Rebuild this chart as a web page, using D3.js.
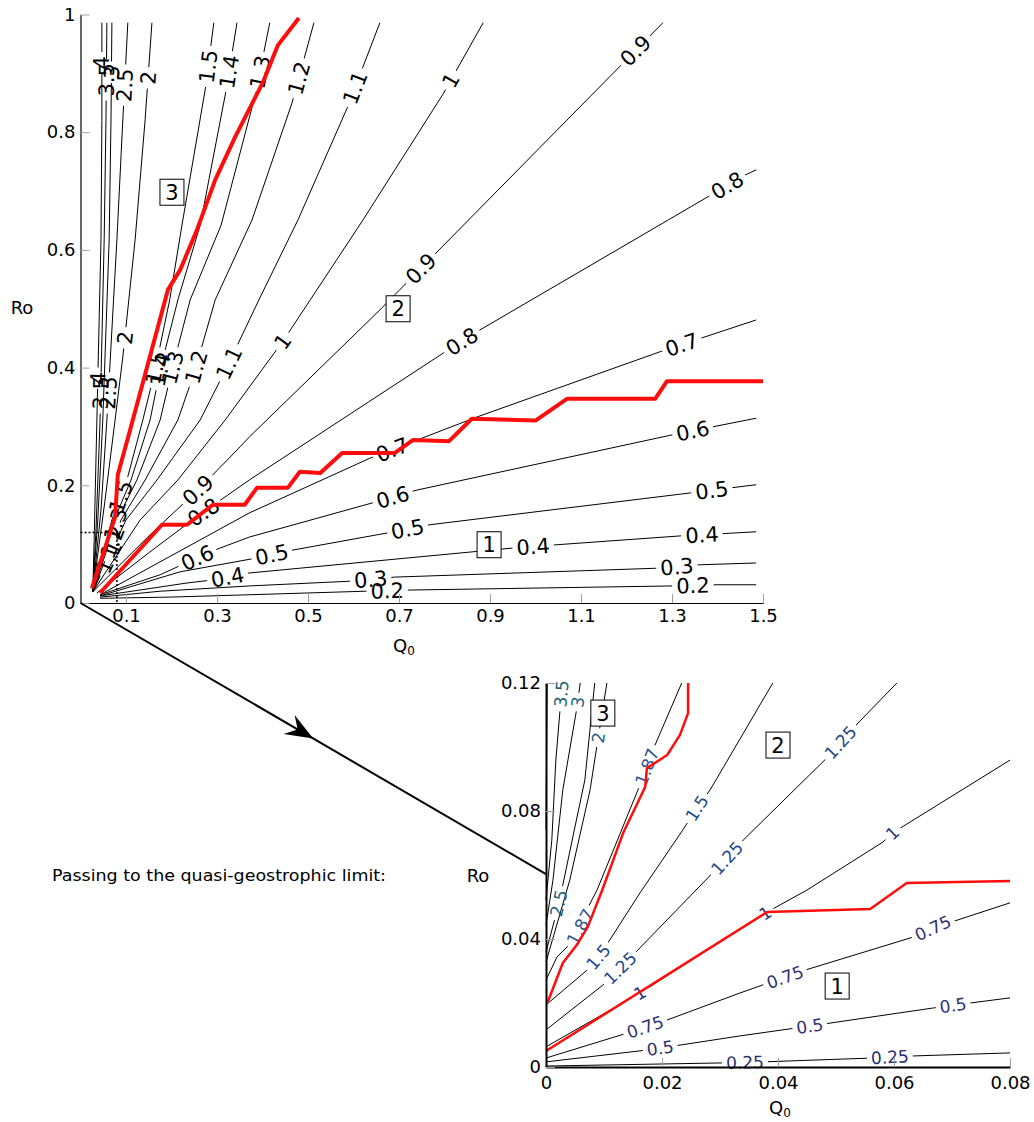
<!DOCTYPE html>
<html>
<head>
<meta charset="utf-8">
<script src="https://cdn.jsdelivr.net/npm/d3@7"></script>
<style>
  body { margin: 0; background: #fff; }
  text { font-family: "DejaVu Sans", sans-serif; }
</style>
</head>
<body>
<div id="chart"></div>
<script>
// ---- upper panel (full range) ----
const topXTicks = [0.1, 0.3, 0.5, 0.7, 0.9, 1.1, 1.3, 1.5];
const topYTicks = [0, 0.2, 0.4, 0.6, 0.8, 1];

const topLevels = ["4", "3.5", "3", "2.5", "2", "1.5", "1.4", "1.3", "1.2", "1.1", "1", "0.9", "0.8", "0.7", "0.6", "0.5", "0.4", "0.3", "0.2"];

const topLines = [
  [[0.027,0.019],[0.030,0.107],[0.036,0.311],[0.045,0.617],[0.047,0.820],[0.047,0.986]],
  [[0.027,0.019],[0.034,0.124],[0.043,0.311],[0.052,0.617],[0.056,0.821],[0.058,0.986]],
  [[0.027,0.019],[0.038,0.141],[0.049,0.311],[0.063,0.617],[0.067,0.821],[0.069,0.986]],
  [[0.027,0.019],[0.045,0.158],[0.058,0.311],[0.080,0.617],[0.093,0.821],[0.104,0.986]],
  [[0.027,0.019],[0.054,0.175],[0.076,0.311],[0.093,0.418],[0.120,0.617],[0.142,0.821],[0.157,0.986]],
  [[0.027,0.019],[0.069,0.141],[0.102,0.209],[0.137,0.311],[0.164,0.396],[0.196,0.515],[0.223,0.642],[0.274,0.872],[0.293,0.986]],
  [[0.027,0.019],[0.074,0.141],[0.111,0.209],[0.153,0.311],[0.175,0.396],[0.214,0.515],[0.263,0.642],[0.318,0.863],[0.344,0.986]],
  [[0.027,0.019],[0.080,0.141],[0.124,0.209],[0.175,0.311],[0.201,0.396],[0.241,0.515],[0.309,0.642],[0.384,0.863],[0.416,0.986]],
  [[0.027,0.019],[0.089,0.141],[0.142,0.209],[0.214,0.311],[0.252,0.396],[0.296,0.515],[0.377,0.651],[0.465,0.850],[0.513,0.986]],
  [[0.027,0.019],[0.100,0.141],[0.168,0.209],[0.263,0.311],[0.322,0.401],[0.392,0.515],[0.478,0.651],[0.586,0.841],[0.658,0.986]],
  [[0.027,0.019],[0.131,0.141],[0.214,0.209],[0.318,0.311],[0.445,0.445],[0.621,0.651],[0.797,0.865],[0.885,0.986]],
  [[0.027,0.019],[0.153,0.116],[0.258,0.192],[0.329,0.248],[0.371,0.282],[0.658,0.498],[1.280,0.986]],
  [[0.036,0.017],[0.153,0.087],[0.258,0.148],[0.371,0.209],[0.790,0.421],[0.878,0.464],[1.292,0.651],[1.460,0.727],[1.485,0.736]],
  [[0.043,0.014],[0.371,0.153],[0.636,0.246],[0.871,0.316],[1.274,0.427],[1.485,0.481]],
  [[0.043,0.014],[0.175,0.048],[0.285,0.087],[0.371,0.112],[0.641,0.170],[0.740,0.192],[1.296,0.285],[1.485,0.314]],
  [[0.043,0.012],[0.219,0.053],[0.384,0.076],[0.467,0.090],[0.674,0.119],[0.768,0.133],[1.340,0.187],[1.485,0.201]],
  [[0.043,0.012],[0.234,0.034],[0.289,0.039],[0.371,0.051],[0.944,0.093],[1.047,0.099],[1.318,0.114],[1.485,0.121]],
  [[0.043,0.010],[0.175,0.020],[0.371,0.029],[0.592,0.037],[0.691,0.044],[1.263,0.059],[1.362,0.065],[1.485,0.068]],
  [[0.043,0.008],[0.196,0.010],[0.371,0.014],[0.625,0.020],[0.724,0.022],[1.300,0.029],[1.399,0.031],[1.485,0.031]]
];

// approximate label spots (snapped onto each line)
const topLabelSpots = [
  [[0.050,0.918],[0.043,0.382]],
  [[0.056,0.889],[0.049,0.357]],
  [[0.069,0.902]],
  [[0.098,0.880],[0.060,0.357]],
  [[0.155,0.892],[0.104,0.450]],
  [[0.289,0.911],[0.159,0.401],[0.098,0.178]],
  [[0.333,0.902],[0.175,0.396]],
  [[0.395,0.902],[0.208,0.399],[0.096,0.129]],
  [[0.478,0.892],[0.254,0.401],[0.085,0.099]],
  [[0.605,0.875],[0.320,0.410],[0.078,0.073]],
  [[0.812,0.889],[0.445,0.444]],
  [[1.214,0.943],[0.747,0.569],[0.258,0.192]],
  [[1.421,0.710],[0.836,0.447],[0.274,0.150]],
  [[1.322,0.438],[0.687,0.257]],
  [[1.346,0.291],[0.687,0.178],[0.256,0.078]],
  [[1.388,0.189],[0.720,0.121],[0.421,0.080]],
  [[1.366,0.112],[0.995,0.093],[0.324,0.041]],
  [[1.311,0.059],[0.638,0.039]],
  [[1.346,0.027],[0.674,0.020]]
];

const topRedUpper = [[0.025,0.025],[0.076,0.146],[0.082,0.218],[0.109,0.294],[0.192,0.532],[0.219,0.566],[0.256,0.634],[0.296,0.719],[0.340,0.792],[0.401,0.885],[0.434,0.948],[0.480,0.994]];
const topRedLower = [[0.043,0.017],[0.179,0.133],[0.234,0.133],[0.291,0.167],[0.361,0.167],[0.388,0.196],[0.456,0.196],[0.482,0.223],[0.527,0.221],[0.575,0.255],[0.691,0.255],[0.731,0.277],[0.81,0.275],[0.86,0.313],[1.0,0.31],[1.069,0.347],[1.263,0.347],[1.289,0.377],[1.5,0.377]];

const topRegions = [["3", 0.201, 0.698], ["2", 0.698, 0.500], ["1", 0.898, 0.099]];
const zoomBox = [0.08, 0.12];

// ---- lower panel (quasi-geostrophic limit) ----
const botXTicks = [0, 0.02, 0.04, 0.06, 0.08];
const botYTicks = [0, 0.04, 0.08, 0.12];

const botLevels = ["4", "3.5", "3", "2.5", "2", "1.87", "1.5", "1.25", "1", "0.75", "0.5", "0.25"];
const botLabelColors = ["#1b6477", "#1b6477", "#1b6477", "#1b6477", "#1d5c86", "#1f5390", "#1f4c8e", "#23468a", "#2a3578", "#2b2f6e", "#2b2f6e", "#2b2f6e"];

const botLines = [
  [[0,0.0741],[0.0002,0.12]],
  [[0,0.0522],[0.001,0.0709],[0.0017,0.0959],[0.0028,0.12]],
  [[0,0.0444],[0.0012,0.0584],[0.0029,0.0866],[0.0052,0.1109],[0.0059,0.12]],
  [[0,0.0359],[0.0017,0.0475],[0.0029,0.0569],[0.0047,0.0725],[0.0067,0.0897],[0.0084,0.12]],
  [[0,0.0328],[0.0041,0.0584],[0.0076,0.0866],[0.0088,0.1006],[0.0105,0.12]],
  [[0,0.0272],[0.0019,0.0344],[0.0045,0.0391],[0.0059,0.0438],[0.0072,0.0497],[0.0088,0.0553],[0.0157,0.0859],[0.0174,0.0938],[0.0188,0.1006],[0.0234,0.12]],
  [[0,0.0194],[0.0071,0.0303],[0.009,0.0344],[0.011,0.0397],[0.0162,0.0544],[0.0236,0.0741],[0.026,0.0809],[0.0283,0.0866],[0.0391,0.12]],
  [[0,0.0116],[0.0098,0.0256],[0.0128,0.0309],[0.0157,0.0363],[0.0309,0.0647],[0.034,0.0709],[0.0486,0.0969],[0.0507,0.1013],[0.0538,0.1075],[0.0605,0.12]],
  [[0,0.0063],[0.0162,0.0231],[0.0378,0.0481],[0.045,0.0553],[0.0581,0.0703],[0.0597,0.0731],[0.08,0.0959]],
  [[0,0.0028],[0.014,0.0106],[0.0171,0.0125],[0.02,0.0141],[0.0334,0.0231],[0.0412,0.0281],[0.0447,0.0303],[0.0633,0.0406],[0.0667,0.0434],[0.08,0.0513]],
  [[0,0.0016],[0.0174,0.0053],[0.0222,0.0066],[0.0334,0.0097],[0.0455,0.0128],[0.0666,0.0184],[0.0731,0.02],[0.08,0.0216]],
  [[0,0.0003],[0.0312,0.0013],[0.0374,0.0016],[0.0562,0.0028],[0.0624,0.0034],[0.08,0.0044]]
];

const botLabelSpots = [
  [],
  [[0.0028,0.1166]],
  [[0.0052,0.1141]],
  [[0.0019,0.0513]],
  [[0.0084,0.1031]],
  [[0.0059,0.0438],[0.0174,0.0938]],
  [[0.009,0.0344],[0.026,0.0809]],
  [[0.0128,0.0309],[0.0312,0.0653],[0.0507,0.1016]],
  [[0.0162,0.0231],[0.0378,0.0481],[0.0597,0.0731]],
  [[0.0171,0.0125],[0.0412,0.0281],[0.0667,0.0434]],
  [[0.0197,0.0059],[0.0455,0.0125],[0.0702,0.0191]],
  [[0.0343,0.0016],[0.0593,0.0031]]
];

const botRedUpper = [[0.0003,0.0203],[0.0029,0.0325],[0.0053,0.0381],[0.0072,0.0438],[0.0097,0.0553],[0.0133,0.0731],[0.0171,0.0875],[0.0174,0.0934],[0.0209,0.0975],[0.0231,0.1038],[0.0245,0.1106],[0.0245,0.12]];
const botRedLower = [[0,0.005],[0.0381,0.0484],[0.0559,0.0494],[0.0622,0.0575],[0.08,0.0581]];

const botRegions = [["3", 0.0098, 0.1106], ["2", 0.0400, 0.1006], ["1", 0.0502, 0.0253]];

const arrowEndRo = 0.0603;
const caption = "Passing to the quasi-geostrophic limit:";

// ---------------------------------------------------------------
const W = 1034, H = 1122;
const svg = d3.select("#chart").append("svg").attr("width", W).attr("height", H);
const defs = svg.append("defs");

const xTop = d3.scaleLinear().domain([0, 1.5]).range([80.5, 763]);
const yTop = d3.scaleLinear().domain([0, 1]).range([603, 14.5]);
const xBot = d3.scaleLinear().domain([0, 0.08]).range([546, 1010]);
const yBot = d3.scaleLinear().domain([0, 0.12]).range([1067, 683]);

// nearest point on a pixel polyline, with the local direction
function project(pts, p) {
  let best = null;
  for (let k = 0; k < pts.length - 1; k++) {
    const a = pts[k], b = pts[k + 1];
    const dx = b[0] - a[0], dy = b[1] - a[1];
    const L2 = dx * dx + dy * dy || 1;
    let t = ((p[0] - a[0]) * dx + (p[1] - a[1]) * dy) / L2;
    t = Math.max(0, Math.min(1, t));
    const qx = a[0] + t * dx, qy = a[1] + t * dy;
    const d = (qx - p[0]) ** 2 + (qy - p[1]) ** 2;
    if (!best || d < best.d) best = {d, x: qx, y: qy, angle: Math.atan2(dy, dx) * 180 / Math.PI};
  }
  let a = best.angle;
  if (a > 90) a -= 180;
  if (a < -90) a += 180;
  best.angle = a;
  return best;
}

function drawContours(id, lines, levels, spots, xs, ys, fontSize, colorOf) {
  const g = svg.append("g").attr("class", id + "-lines");
  const lg = svg.append("g").attr("class", id + "-labels");
  lines.forEach((pts, i) => {
    const px = pts.map(p => [xs(p[0]), ys(p[1])]);
    const maskId = id + "-mask-" + i;
    const mask = defs.append("mask").attr("id", maskId)
      .attr("maskUnits", "userSpaceOnUse")
      .attr("x", 0).attr("y", 0).attr("width", W).attr("height", H);
    mask.append("rect").attr("width", W).attr("height", H).attr("fill", "#fff");

    g.append("path")
      .attr("d", d3.line()(px))
      .attr("fill", "none")
      .attr("stroke", "#000")
      .attr("stroke-width", 1)
      .attr("mask", `url(#${maskId})`);

    (spots[i] || []).forEach(s => {
      const q = project(px, [xs(s[0]), ys(s[1])]);
      const tr = `translate(${q.x},${q.y}) rotate(${q.angle})`;
      const t = lg.append("text")
        .attr("transform", tr)
        .attr("text-anchor", "middle")
        .attr("dy", "0.36em")
        .style("font-size", fontSize + "px")
        .attr("fill", colorOf(i))
        .text(levels[i]);
      const w = t.node().getComputedTextLength();
      mask.append("rect")
        .attr("transform", tr)
        .attr("x", -w / 2 - 4).attr("y", -fontSize * 0.45)
        .attr("width", w + 8).attr("height", fontSize * 0.9)
        .attr("fill", "#000");
    });
  });
}

function redLine(pts, xs, ys, width) {
  svg.append("path")
    .attr("d", d3.line().x(d => xs(d[0])).y(d => ys(d[1]))(pts))
    .attr("fill", "none")
    .attr("stroke", "#ff0d0d")
    .attr("stroke-width", width)
    .attr("stroke-linejoin", "round");
}

function regionBoxes(list, xs, ys) {
  list.forEach(r => {
    const cx = xs(r[1]), cy = ys(r[2]);
    svg.append("rect")
      .attr("x", cx - 12).attr("y", cy - 13)
      .attr("width", 24).attr("height", 26)
      .attr("fill", "#fff").attr("stroke", "#000").attr("stroke-width", 1);
    svg.append("text")
      .attr("x", cx).attr("y", cy).attr("dy", "0.36em")
      .attr("text-anchor", "middle")
      .style("font-size", "21px")
      .text(r[0]);
  });
}

function styleAxis(sel, domainWidth) {
  sel.select(".domain").attr("stroke", "#000").attr("stroke-width", domainWidth);
  sel.selectAll(".tick line").attr("stroke", "#a0a0a0");
  sel.selectAll(".tick text").attr("fill", "#000").style("font-size", "18px")
    .style("font-family", "'DejaVu Sans', sans-serif");
}

function axisTitle(x, y, main, sub) {
  const t = svg.append("text").attr("x", x).attr("y", y)
    .attr("text-anchor", "middle").style("font-size", "18px").text(main);
  if (sub) t.append("tspan").attr("dy", 3).style("font-size", "12px").text(sub);
}

// ---- upper panel ----
drawContours("top", topLines, topLevels, topLabelSpots, xTop, yTop, 21, () => "#000");

// dotted zoom window
svg.append("path")
  .attr("d", d3.line()([[xTop(0), yTop(zoomBox[1])], [xTop(zoomBox[0]), yTop(zoomBox[1])], [xTop(zoomBox[0]), yTop(0)]]))
  .attr("fill", "none").attr("stroke", "#000").attr("stroke-width", 1.5)
  .attr("stroke-dasharray", "2,2");

redLine(topRedUpper, xTop, yTop, 4);
redLine(topRedLower, xTop, yTop, 4);
regionBoxes(topRegions, xTop, yTop);

const topXAxis = svg.append("g").attr("transform", `translate(0,${yTop(0)})`)
  .call(d3.axisBottom(xTop).tickValues(topXTicks).tickSizeInner(-9).tickSizeOuter(0).tickPadding(6).tickFormat(d => String(d)));
styleAxis(topXAxis, 1.2);
const topYAxis = svg.append("g").attr("transform", `translate(${xTop(0)},0)`)
  .call(d3.axisLeft(yTop).tickValues(topYTicks).tickSizeInner(-9).tickSizeOuter(0).tickPadding(5).tickFormat(d => String(d)));
styleAxis(topYAxis, 1.2);
axisTitle(22, 314, "Ro");
axisTitle(404, 652, "Q", "0");

// ---- arrow from the origin to the zoomed panel ----
const a0 = [xTop(0), yTop(0)], a1 = [xBot(0), yBot(arrowEndRo)];
svg.append("line")
  .attr("x1", a0[0]).attr("y1", a0[1]).attr("x2", a1[0]).attr("y2", a1[1])
  .attr("stroke", "#000").attr("stroke-width", 2);
{
  const dx = a1[0] - a0[0], dy = a1[1] - a0[1], L = Math.hypot(dx, dy);
  const ux = dx / L, uy = dy / L, nx = -uy, ny = ux;
  const tip = [a0[0] + dx * 0.5, a0[1] + dy * 0.5];
  const back = 28, half = 11, notch = 18;
  const p1 = [tip[0] - ux * back + nx * half, tip[1] - uy * back + ny * half];
  const p2 = [tip[0] - ux * notch, tip[1] - uy * notch];
  const p3 = [tip[0] - ux * back - nx * half, tip[1] - uy * back - ny * half];
  svg.append("path").attr("d", d3.line()([tip, p1, p2, p3]) + "Z").attr("fill", "#000");
}

svg.append("text").attr("x", 52).attr("y", 881)
  .attr("textLength", 334).attr("lengthAdjust", "spacingAndGlyphs")
  .style("font-size", "16px").text(caption);

// ---- lower panel ----
drawContours("bot", botLines, botLevels, botLabelSpots, xBot, yBot, 17, i => botLabelColors[i]);
redLine(botRedUpper, xBot, yBot, 2.5);
redLine(botRedLower, xBot, yBot, 2.5);
regionBoxes(botRegions, xBot, yBot);

const botXAxis = svg.append("g").attr("transform", `translate(0,${yBot(0)})`)
  .call(d3.axisBottom(xBot).tickValues(botXTicks).tickSizeInner(-9).tickSizeOuter(0).tickPadding(9).tickFormat(d => String(d)));
styleAxis(botXAxis, 2);
const botYAxis = svg.append("g").attr("transform", `translate(${xBot(0)},0)`)
  .call(d3.axisLeft(yBot).tickValues(botYTicks).tickSizeInner(-9).tickSizeOuter(0).tickPadding(5).tickFormat(d => String(d)));
styleAxis(botYAxis, 2);
axisTitle(478, 882, "Ro");
axisTitle(780, 1114, "Q", "0");
</script>
</body>
</html>
